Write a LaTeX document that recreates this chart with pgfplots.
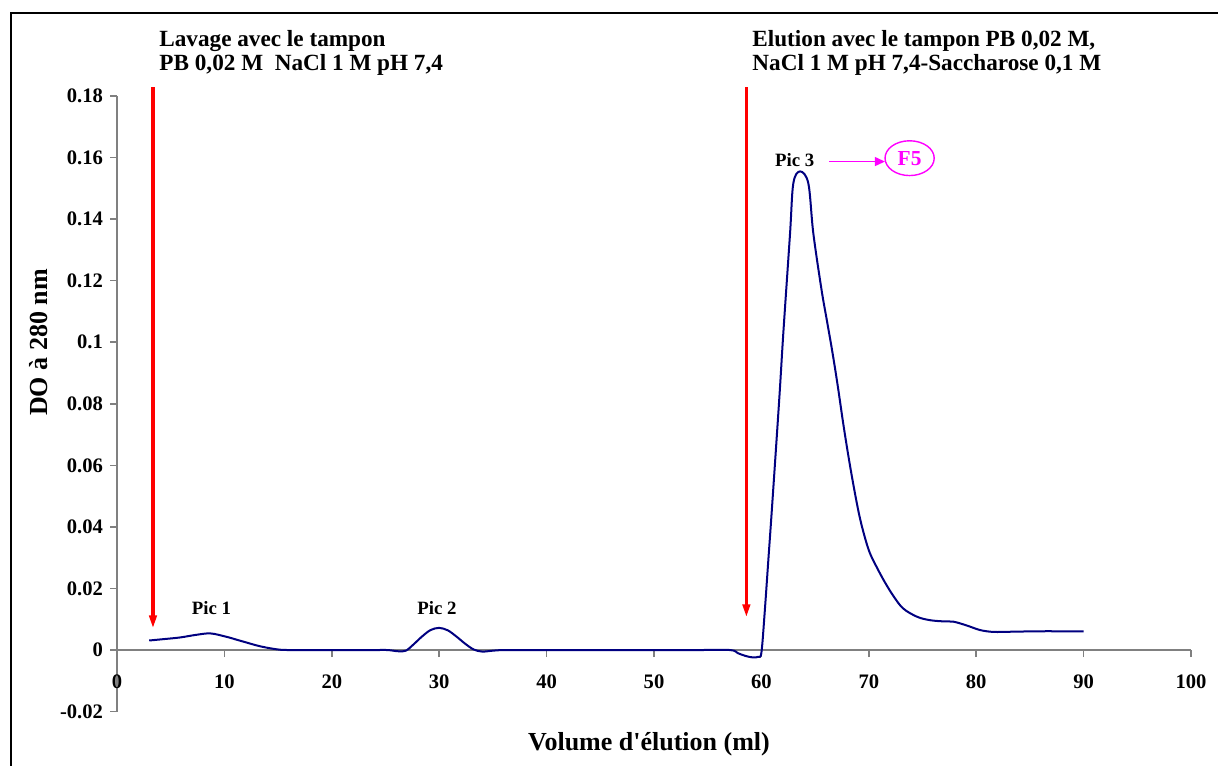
\documentclass[border=0pt]{standalone}
\usepackage{fontspec}
\setmainfont{Liberation Serif}
\usepackage{pgfplots}
\pgfplotsset{compat=1.18}
\usetikzlibrary{arrows.meta}

\definecolor{curve}{HTML}{000080}
\definecolor{axisgray}{HTML}{808080}
\definecolor{pink}{HTML}{FF00FF}

\begin{document}
\begin{tikzpicture}[x=0.5pt,y=0.5pt]
\useasboundingbox (0,0) rectangle (1218,765);
% frame, cut by the page edge at right and bottom
\draw[line width=1pt] (11,-40) -- (11,752.2) -- (1260,752.2);

\begin{axis}[
  at={(58.5pt,26.7pt)}, anchor=south west,
  scale only axis,
  width=537pt, height=307.8pt,
  xmin=0, xmax=100, ymin=-0.02, ymax=0.18,
  axis x line=middle, axis y line=left,
  axis line style={-, draw=axisgray, line width=0.75pt},
  x axis line style={-}, y axis line style={-},
  hide obscured x ticks=false, hide obscured y ticks=false,
  tick align=outside,
  major tick length=3.5pt,
  tick style={draw=axisgray, line width=0.75pt},
  xtick={0,10,20,30,40,50,60,70,80,90,100},
  xticklabels={0,10,20,30,40,50,60,70,80,90,100},
  ytick={-0.02,0,0.02,0.04,0.06,0.08,0.1,0.12,0.14,0.16,0.18},
  yticklabels={-0.02,0,0.02,0.04,0.06,0.08,0.1,0.12,0.14,0.16,0.18},
  ticklabel style={font=\fontsize{10.3}{12}\selectfont\bfseries},
  xticklabel style={yshift=-5.5pt},
  clip=false,
]
\addplot[color=curve, line width=1pt, smooth, tension=0.55] coordinates {
 (3.0,0.0031) (4.5,0.0036) (5.9,0.0041) (7.3,0.0049) (8.7,0.0054)
 (10.2,0.0043) (11.1,0.0034) (12.1,0.0024) (13.0,0.0015) (13.9,0.0008)
 (15.2,0.0001) (16.5,0) (18,0) (20,0) (22,0) (24,0) (25.2,0)
 (26.2,-0.0004) (26.9,-0.0002) (27.6,0.0018) (28.4,0.0044) (29.2,0.0065)
 (30.0,0.0072) (30.8,0.0064) (31.6,0.0044) (32.4,0.0021) (33.2,0.0002)
 (34.0,-0.0005) (35.0,-0.0002) (36,0)
 (38,0) (42,0) (46,0) (50,0) (54,0) (57.1,0)
 (57.8,-0.0010) (58.5,-0.0019) (59.2,-0.0024) (59.7,-0.0022) (60.0,-0.0008)
 (60.3,0.012) (60.64,0.029) (61.0,0.047) (61.67,0.082) (62.04,0.103)
 (62.66,0.135) (62.97,0.1516) (63.6,0.1555)
 (64.37,0.1516) (64.83,0.1355) (65.6,0.117) (66.1,0.107)
 (66.6,0.097) (67.1,0.086) (67.6,0.074) (68.1,0.063) (68.6,0.053)
 (69.1,0.044) (69.6,0.037) (70.1,0.0315) (70.8,0.0265) (71.5,0.022)
 (72.3,0.0175) (73.2,0.0135) (74.5,0.0108) (75.7,0.0097) (77.0,0.0093) (77.9,0.0092)
 (79.1,0.0080) (80.35,0.0065) (81.5,0.0059) (82.5,0.0059) (84,0.0060)
 (86,0.0061) (88,0.0061) (90,0.0061)
};

% buffer changes
\draw[red, line width=1.7pt, -{Triangle[width=3.6pt,length=6.5pt]}]
  (axis cs:3.35,0.1829) -- (axis cs:3.35,0.0070);
\draw[red, line width=1.7pt, -{Triangle[width=3.6pt,length=6.5pt]}]
  (axis cs:58.6,0.1829) -- (axis cs:58.6,0.0106);

% peak names
\node[anchor=base, inner sep=0, font=\fontsize{9.4}{11}\selectfont\bfseries] at (axis cs:8.8,0.0114) {Pic 1};
\node[anchor=base, inner sep=0, font=\fontsize{9.4}{11}\selectfont\bfseries] at (axis cs:29.8,0.0114) {Pic 2};
\node[anchor=base, inner sep=0, font=\fontsize{9.4}{11}\selectfont\bfseries] at (axis cs:63.1,0.157) {Pic 3};

% fraction F5
\draw[pink, line width=0.6pt, -{Triangle[width=4.5pt,length=5pt]}]
  (axis cs:66.3,0.1587) -- (axis cs:71.5,0.1587);
\draw[pink, line width=0.7pt] (axis cs:73.8,0.1598) ellipse [x radius=12.3pt, y radius=8.7pt];
\node[pink, font=\fontsize{10.7}{12}\selectfont\bfseries] at (axis cs:73.8,0.1598) {F5};
\end{axis}

\node[anchor=base west, inner sep=0, font=\fontsize{11.6}{14}\selectfont\bfseries] at (159,718) {Lavage avec le tampon};
\node[anchor=base west, inner sep=0, font=\fontsize{11.6}{14}\selectfont\bfseries] at (159,694.3) {PB 0,02 M\ \ NaCl 1 M pH 7,4};
\node[anchor=base west, inner sep=0, font=\fontsize{11.6}{14}\selectfont\bfseries] at (752,718) {Elution avec le tampon PB 0,02 M,};
\node[anchor=base west, inner sep=0, font=\fontsize{11.6}{14}\selectfont\bfseries] at (752,694.3) {NaCl 1 M pH 7,4-Saccharose 0,1 M};

\node[anchor=base, inner sep=0, font=\fontsize{13}{15}\selectfont\bfseries] at (649,15) {Volume d\textquotesingle élution (ml)};
\node[rotate=90, anchor=center, inner sep=0, font=\fontsize{13}{15}\selectfont\bfseries] at (39,422.5) {DO à 280 nm};
\end{tikzpicture}
\end{document}
